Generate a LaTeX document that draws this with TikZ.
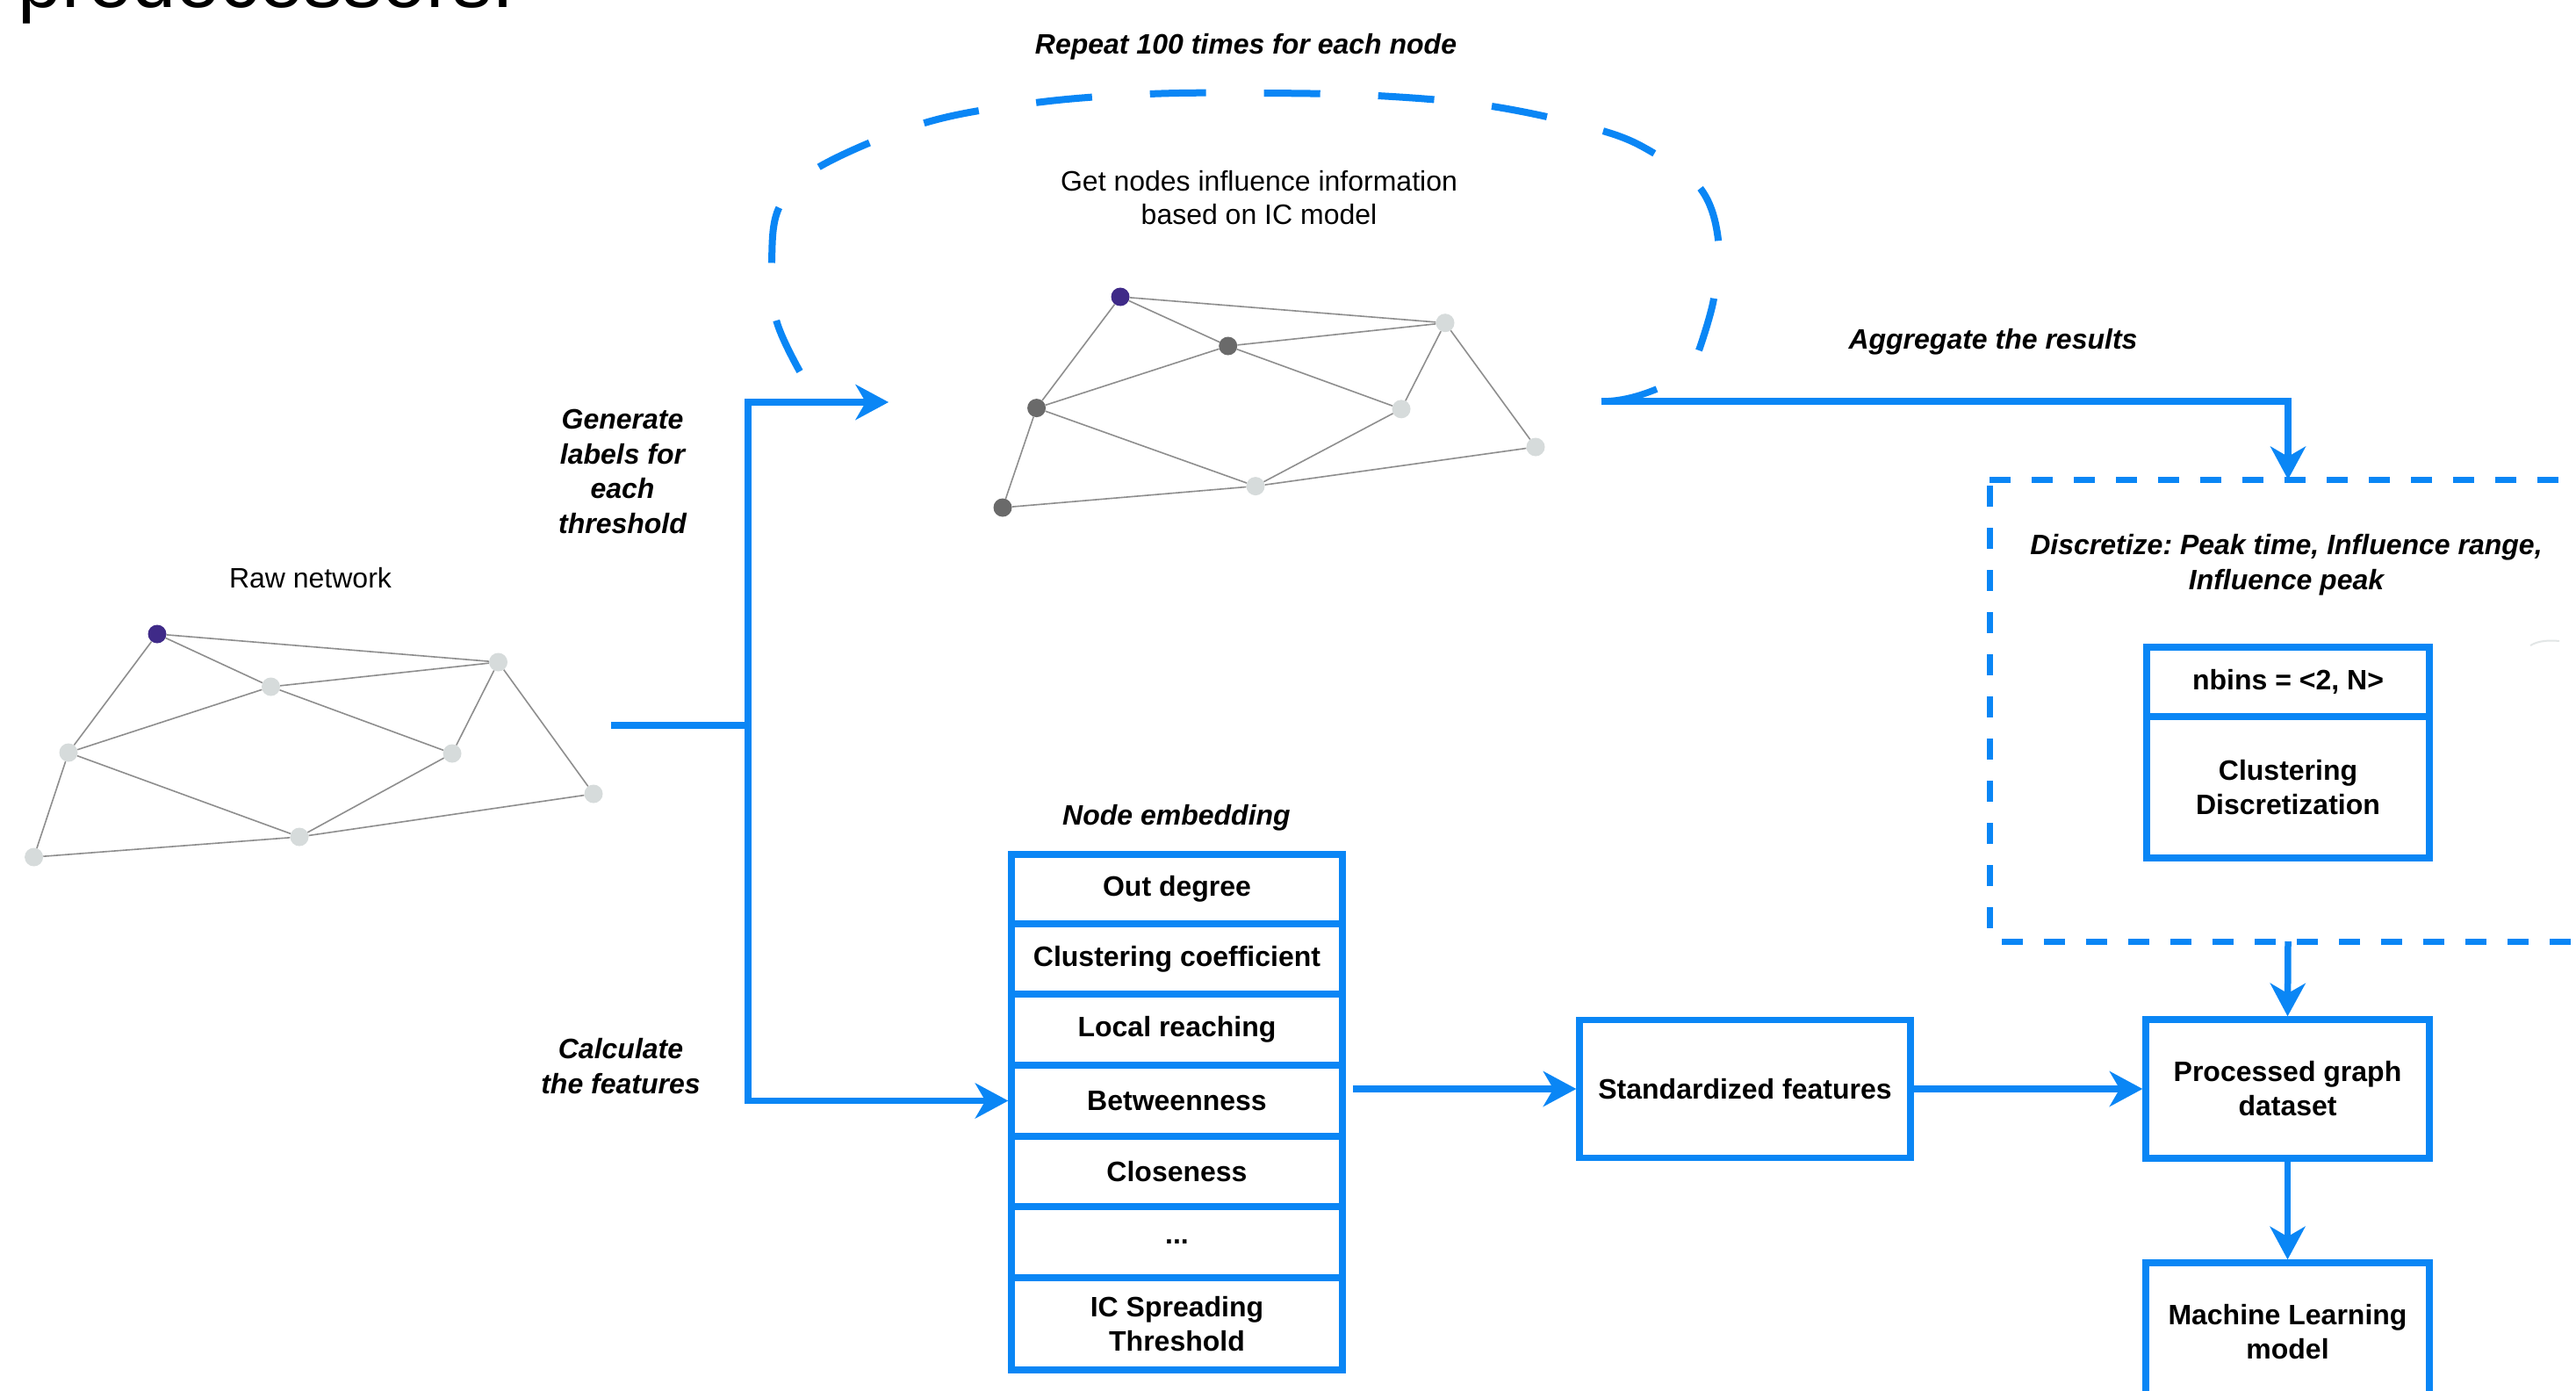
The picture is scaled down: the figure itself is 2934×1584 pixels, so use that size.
\documentclass[tikz,border=0pt]{standalone}
\usepackage{fontspec}
\setmainfont{Liberation Sans}
\usetikzlibrary{arrows.meta}
\definecolor{flowblue}{HTML}{0A86F5}
\definecolor{seedpurple}{HTML}{3F2A88}
\definecolor{actgray}{HTML}{6A6A6A}
\definecolor{idlegray}{HTML}{D6DBDB}
\definecolor{edgegray}{HTML}{8E8E8E}
\newcommand\regtxt{\fontsize{32}{37.6}\selectfont}
\newcommand\boldtxt{\fontsize{32}{39}\selectfont\bfseries}
\newcommand\bitxt{\fontsize{32}{39.5}\selectfont\bfseries\itshape}
\frenchspacing
\begin{document}
\begin{tikzpicture}[x=1pt,y=-1pt,
  conn/.style={draw=flowblue, line width=7.5pt},
  arr/.style={conn, -{Stealth[length=38pt,width=41pt,inset=12pt,line width=0pt]}},
  box/.style={draw=flowblue, line width=7.5pt, inner sep=0pt, align=center, font=\boldtxt},
  rowbox/.style={box, minimum width=377pt},
  lbl/.style={inner sep=0pt, align=center, font=\bitxt},
  plain/.style={inner sep=0pt, align=center, font=\regtxt},
  gnode/.style={circle, inner sep=0pt, minimum size=21pt},
  seed/.style={gnode, fill=seedpurple},
  act/.style={gnode, fill=actgray},
  idle/.style={gnode, fill=idlegray},
  gedge/.style={draw=edgegray, line width=1.6pt},
  loopdash/.style={draw=flowblue, line width=8pt, dash pattern=on 64pt off 66pt},
  boxdash/.style={draw=flowblue, line width=7pt, dash pattern=on 24pt off 24pt}]
\useasboundingbox (0,0) rectangle (2934,1584);
\clip (0,0) rectangle (2934,1584);
\fill[white] (0,0) rectangle (2934,1584);

% clipped heading fragment
\node[anchor=base west, inner sep=0pt, font=\fontsize{90}{100}\selectfont] (pred) at (20,9) {predecessors.};

% ---------- raw network ----------
\node[plain] (rawlbl) at (353.5,658) {Raw network};
\node[seed] (p1) at (179,722) {};
\node[idle] (p2) at (308.5,782) {};
\node[idle] (p3) at (567.5,754) {};
\node[idle] (p4) at (78,857) {};
\node[idle] (p5) at (515,858) {};
\node[idle] (p6) at (676,904) {};
\node[idle] (p7) at (341,953) {};
\node[idle] (p8) at (38.6,976) {};
\foreach \a/\b in {p1/p3,p1/p2,p1/p4,p2/p3,p2/p4,p2/p5,p3/p5,p3/p6,p4/p7,p4/p8,p5/p7,p7/p6,p8/p7}
  \draw[gedge] (\a) -- (\b);

% ---------- IC model graph ----------
\node[lbl] (repeat) at (1419,53) {Repeat 100 times for each node};
\node[plain] (getinfo) at (1434,225) {Get nodes influence information\\based on IC model};
\node[seed] (q1) at (1276,338) {};
\node[act] (q2) at (1398.7,394) {};
\node[idle] (q3) at (1646,367.7) {};
\node[act] (q4) at (1180.6,464.6) {};
\node[idle] (q5) at (1596,465.8) {};
\node[idle] (q6) at (1749,509) {};
\node[idle] (q7) at (1430,553.6) {};
\node[act] (q8) at (1142,578) {};
\foreach \a/\b in {q1/q3,q1/q2,q1/q4,q2/q3,q2/q4,q2/q5,q3/q5,q3/q6,q4/q7,q4/q8,q5/q7,q7/q6,q8/q7}
  \draw[gedge] (\a) -- (\b);

% dashed repeat loop
\draw[loopdash] plot[smooth, tension=0.6] coordinates {(911,423) (884,364) (879,297) (888,235) (933,190) (1053,140) (1179,117) (1309,107) (1439,106) (1569,109) (1699,121) (1822,148) (1883,174) (1937,215) (1957,273) (1952,340) (1935,399)};
\coordinate (aggS) at (1824,457);
\draw[conn] (1887,443) .. controls (1865,452) and (1845,457) .. (aggS);

% ---------- left labels and split ----------
\node[lbl] (genlbl) at (709,537) {Generate\\labels for\\each\\threshold};
\node[lbl] (calclbl) at (707,1214) {Calculate\\the features};
\coordinate (rawout) at (696,826);
\coordinate (split) at (852,826);
\coordinate (loopin) at (1012,458);

% ---------- node embedding stack ----------
\node[lbl] (emblbl) at (1340,931) {Node embedding};
\node[rowbox, minimum height=79pt] (r1) at (1340.5,1012.5) {Out degree};
\node[rowbox, minimum height=80pt] (r2) at (1340.5,1092) {Clustering coefficient};
\node[rowbox, minimum height=81pt] (r3) at (1340.5,1172.5) {Local reaching};
\node[rowbox, minimum height=81pt] (betw) at (1340.5,1253.5) {Betweenness};
\node[rowbox, minimum height=80pt] (r5) at (1340.5,1334) {Closeness};
\node[rowbox, minimum height=81pt] (r6) at (1340.5,1414.5) {...};
\node[rowbox, minimum height=105pt] (r7) at (1340.5,1507.5) {IC Spreading\\Threshold};

% ---------- right part ----------
\node[box, minimum width=377pt, minimum height=157pt] (std) at (1987.5,1240) {Standardized features};
\node[box, minimum width=323pt, minimum height=158pt] (proc) at (2605.5,1240) {Processed graph\\dataset};
\node[box, minimum width=323pt, minimum height=158pt] (ml) at (2605.5,1517) {Machine Learning\\model};

\node[lbl] (agglbl) at (2270,389) {Aggregate the results};
\draw[boxdash] (2266,546) -- (2960,546);
\draw[boxdash] (2266,553) -- (2266,1072);
\draw[boxdash] (2280,1072) -- (2960,1072);
\coordinate (disctop) at (2606,546);
\coordinate (discbot) at (2606,1072);
\node[lbl] (disclbl) at (2604,643) {Discretize: Peak time, Influence range,\\Influence peak};
\node[box, minimum width=322pt, minimum height=79pt] (nbins) at (2606,776.5) {nbins = <2, N>};
\node[box, minimum width=322pt, minimum height=161pt] (clust) at (2606,896.5) {Clustering\\Discretization};
\draw[idlegray!70, line width=2pt] (2882,735) .. controls (2892,729) and (2905,729) .. (2915,730);

% ---------- connectors ----------
\draw[conn] (rawout) -- (split);
\draw[arr] (split) |- (loopin);
\draw[arr] (split) |- (betw.west);
\draw[arr] ([xshift=8pt]betw.east |- std.west) -- (std.west);
\draw[arr] (std) -- (proc);
\draw[arr] (proc) -- (ml);
\draw[arr] (aggS) -| (disctop);
\draw[arr] (discbot) -- (proc.north);
\end{tikzpicture}
\end{document}
